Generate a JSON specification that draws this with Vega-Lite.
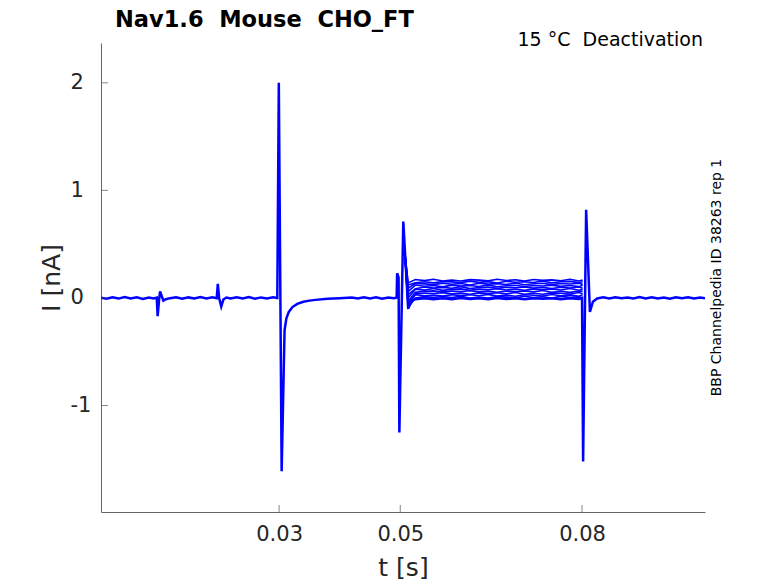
{
  "$schema": "https://vega.github.io/schema/vega-lite/v6.json",
  "width": 604,
  "height": 469,
  "autosize": {"type": "none"},
  "padding": {"left": 101, "top": 43, "right": 73, "bottom": 71},
  "background": "white",
  "config": {
    "font": "DejaVu Sans",
    "view": {"stroke": null},
    "axis": {
      "grid": false,
      "ticks": false,
      "domainColor": "#666666",
      "labelColor": "#262626",
      "titleColor": "#262626",
      "labelFont": "DejaVu Sans",
      "titleFont": "DejaVu Sans",
      "titleFontWeight": "normal"
    }
  },
  "title": {
    "text": "Nav1.6\u00a0 Mouse\u00a0 CHO_FT",
    "anchor": "start",
    "frame": "group",
    "font": "DejaVu Sans",
    "fontSize": 22.5,
    "fontWeight": "bold",
    "color": "#000000",
    "dx": 14,
    "offset": 0
  },
  "datasets": {
    "main": [
      {"t": 0.0006, "i": 0.002}, {"t": 0.0015, "i": -0.008}, {"t": 0.0025, "i": 0.006}, {"t": 0.0035, "i": -0.006},
      {"t": 0.0045, "i": 0.009}, {"t": 0.0055, "i": -0.004}, {"t": 0.0065, "i": 0.007}, {"t": 0.0075, "i": -0.009},
      {"t": 0.0085, "i": 0.004}, {"t": 0.0093, "i": -0.005}, {"t": 0.0098, "i": 0.003}, {"t": 0.00995, "i": -0.17},
      {"t": 0.0102, "i": -0.01}, {"t": 0.01035, "i": 0.06}, {"t": 0.0106, "i": 0.02}, {"t": 0.0109, "i": -0.025},
      {"t": 0.0113, "i": -0.012}, {"t": 0.012, "i": -0.002}, {"t": 0.013, "i": 0.006}, {"t": 0.014, "i": -0.007},
      {"t": 0.015, "i": 0.005}, {"t": 0.016, "i": -0.006}, {"t": 0.017, "i": 0.008}, {"t": 0.018, "i": -0.004},
      {"t": 0.019, "i": 0.006}, {"t": 0.0197, "i": -0.003}, {"t": 0.01988, "i": 0.13}, {"t": 0.0201, "i": 0.0},
      {"t": 0.02045, "i": -0.08}, {"t": 0.0208, "i": -0.015}, {"t": 0.0213, "i": 0.004}, {"t": 0.022, "i": -0.006},
      {"t": 0.023, "i": 0.007}, {"t": 0.024, "i": -0.004}, {"t": 0.025, "i": 0.008}, {"t": 0.026, "i": -0.007},
      {"t": 0.027, "i": 0.005}, {"t": 0.028, "i": -0.005}, {"t": 0.029, "i": 0.006}, {"t": 0.0297, "i": 0.0},
      {"t": 0.02995, "i": 2.0}, {"t": 0.03042, "i": -1.61}, {"t": 0.0309, "i": -0.3}, {"t": 0.0312, "i": -0.19},
      {"t": 0.0316, "i": -0.13}, {"t": 0.0322, "i": -0.085}, {"t": 0.033, "i": -0.055}, {"t": 0.034, "i": -0.035},
      {"t": 0.035, "i": -0.025}, {"t": 0.036, "i": -0.018}, {"t": 0.038, "i": -0.008}, {"t": 0.04, "i": -0.002},
      {"t": 0.042, "i": 0.005}, {"t": 0.043, "i": -0.006}, {"t": 0.044, "i": 0.007}, {"t": 0.045, "i": -0.004},
      {"t": 0.046, "i": 0.006}, {"t": 0.047, "i": -0.007}, {"t": 0.048, "i": 0.004}, {"t": 0.049, "i": -0.003},
      {"t": 0.0494, "i": 0.004}, {"t": 0.04948, "i": 0.23}, {"t": 0.0496, "i": 0.21}, {"t": 0.04972, "i": 0.19},
      {"t": 0.04985, "i": -1.25}, {"t": 0.0505, "i": 0.71}, {"t": 0.0513, "i": -0.1}, {"t": 0.0518, "i": -0.03},
      {"t": 0.0525, "i": -0.012}, {"t": 0.054, "i": -0.002}, {"t": 0.0555, "i": -0.013}, {"t": 0.057, "i": -0.004},
      {"t": 0.0585, "i": -0.011}, {"t": 0.06, "i": -0.001}, {"t": 0.0615, "i": -0.009}, {"t": 0.063, "i": -0.003},
      {"t": 0.0645, "i": -0.012}, {"t": 0.066, "i": 0.0}, {"t": 0.0675, "i": -0.01}, {"t": 0.069, "i": -0.004},
      {"t": 0.0705, "i": -0.013}, {"t": 0.072, "i": -0.002}, {"t": 0.0735, "i": -0.008}, {"t": 0.075, "i": -0.003},
      {"t": 0.0765, "i": -0.011}, {"t": 0.078, "i": -0.002}, {"t": 0.0795, "i": -0.009}, {"t": 0.08, "i": 0.0},
      {"t": 0.08018, "i": -1.52}, {"t": 0.08068, "i": 0.82}, {"t": 0.0813, "i": -0.13}, {"t": 0.0818, "i": -0.035},
      {"t": 0.0825, "i": -0.005}, {"t": 0.0835, "i": 0.006}, {"t": 0.0845, "i": -0.005}, {"t": 0.0855, "i": 0.007},
      {"t": 0.0865, "i": -0.003}, {"t": 0.0875, "i": 0.005}, {"t": 0.0885, "i": -0.006}, {"t": 0.0895, "i": 0.008},
      {"t": 0.0905, "i": -0.004}, {"t": 0.0915, "i": 0.006}, {"t": 0.0925, "i": -0.005}, {"t": 0.0935, "i": 0.004},
      {"t": 0.0945, "i": -0.007}, {"t": 0.0955, "i": 0.006}, {"t": 0.0965, "i": -0.002}, {"t": 0.0975, "i": 0.007},
      {"t": 0.0985, "i": -0.005}, {"t": 0.0995, "i": 0.003}, {"t": 0.1003, "i": -0.004}
    ],
    "steps": [
      {"t": 0.0507, "a": 0.45, "b": 0.45, "c": 0.45, "d": 0.45, "e": 0.45, "f": 0.45, "g": 0.45, "h": 0.45, "k": 0.45, "j": 0.45},
      {"t": 0.0513, "a": 0.14, "b": 0.12, "c": 0.09, "d": 0.06, "e": 0.03, "f": 0.0, "g": -0.03, "h": -0.05, "k": -0.07, "j": -0.09},
      {"t": 0.0525, "a": 0.171, "b": 0.141, "c": 0.135, "d": 0.12, "e": 0.086, "f": 0.081, "g": 0.052, "h": 0.036, "k": 0.031, "j": 0.0},
      {"t": 0.054, "a": 0.161, "b": 0.15, "c": 0.131, "d": 0.109, "e": 0.102, "f": 0.073, "g": 0.062, "h": 0.046, "k": 0.02, "j": 0.012},
      {"t": 0.0555, "a": 0.174, "b": 0.14, "c": 0.124, "d": 0.116, "e": 0.093, "f": 0.087, "g": 0.066, "h": 0.041, "k": 0.027, "j": 0.005},
      {"t": 0.057, "a": 0.158, "b": 0.153, "c": 0.138, "d": 0.103, "e": 0.098, "f": 0.07, "g": 0.054, "h": 0.049, "k": 0.017, "j": 0.013},
      {"t": 0.0585, "a": 0.167, "b": 0.149, "c": 0.127, "d": 0.119, "e": 0.09, "f": 0.08, "g": 0.064, "h": 0.038, "k": 0.029, "j": 0.003},
      {"t": 0.06, "a": 0.157, "b": 0.142, "c": 0.134, "d": 0.11, "e": 0.104, "f": 0.084, "g": 0.059, "h": 0.045, "k": 0.022, "j": 0.016},
      {"t": 0.0615, "a": 0.17, "b": 0.156, "c": 0.121, "d": 0.115, "e": 0.087, "f": 0.072, "g": 0.067, "h": 0.035, "k": 0.03, "j": 0.0},
      {"t": 0.063, "a": 0.166, "b": 0.145, "c": 0.137, "d": 0.107, "e": 0.097, "f": 0.082, "g": 0.056, "h": 0.047, "k": 0.02, "j": 0.009},
      {"t": 0.0645, "a": 0.159, "b": 0.152, "c": 0.128, "d": 0.121, "e": 0.101, "f": 0.077, "g": 0.063, "h": 0.04, "k": 0.033, "j": -0.001},
      {"t": 0.066, "a": 0.173, "b": 0.139, "c": 0.133, "d": 0.104, "e": 0.089, "f": 0.085, "g": 0.053, "h": 0.048, "k": 0.017, "j": 0.012},
      {"t": 0.0675, "a": 0.162, "b": 0.155, "c": 0.125, "d": 0.114, "e": 0.099, "f": 0.074, "g": 0.065, "h": 0.038, "k": 0.026, "j": 0.008},
      {"t": 0.069, "a": 0.169, "b": 0.146, "c": 0.139, "d": 0.118, "e": 0.094, "f": 0.081, "g": 0.058, "h": 0.051, "k": 0.016, "j": 0.001},
      {"t": 0.0705, "a": 0.156, "b": 0.151, "c": 0.122, "d": 0.106, "e": 0.102, "f": 0.071, "g": 0.066, "h": 0.035, "k": 0.029, "j": 0.015},
      {"t": 0.072, "a": 0.172, "b": 0.143, "c": 0.132, "d": 0.116, "e": 0.091, "f": 0.083, "g": 0.056, "h": 0.044, "k": 0.025, "j": 0.004},
      {"t": 0.0735, "a": 0.163, "b": 0.157, "c": 0.136, "d": 0.111, "e": 0.098, "f": 0.076, "g": 0.069, "h": 0.034, "k": 0.018, "j": 0.011},
      {"t": 0.075, "a": 0.168, "b": 0.14, "c": 0.124, "d": 0.119, "e": 0.088, "f": 0.084, "g": 0.053, "h": 0.047, "k": 0.032, "j": -0.002},
      {"t": 0.0765, "a": 0.16, "b": 0.15, "c": 0.134, "d": 0.108, "e": 0.1, "f": 0.074, "g": 0.062, "h": 0.043, "k": 0.021, "j": 0.014},
      {"t": 0.078, "a": 0.174, "b": 0.154, "c": 0.129, "d": 0.115, "e": 0.093, "f": 0.087, "g": 0.052, "h": 0.036, "k": 0.028, "j": 0.005},
      {"t": 0.0795, "a": 0.157, "b": 0.142, "c": 0.137, "d": 0.105, "e": 0.101, "f": 0.071, "g": 0.065, "h": 0.05, "k": 0.015, "j": 0.01},
      {"t": 0.0801, "a": 0.167, "b": 0.152, "c": 0.126, "d": 0.117, "e": 0.091, "f": 0.08, "g": 0.061, "h": 0.039, "k": 0.031, "j": 0.002}
    ],
    "xticks": [{"t": 0.03, "i": -1.99}, {"t": 0.05, "i": -1.99}, {"t": 0.08, "i": -1.99}],
    "yticks": [{"t": 0.0006, "i": -1}, {"t": 0.0006, "i": 0}, {"t": 0.0006, "i": 1}, {"t": 0.0006, "i": 2}],
    "notes": [
      {"label": "15 °C\u00a0 Deactivation", "t": 0.1003, "i": 2.37, "angle": 0},
      {"label": "BBP Channelpedia ID 38263 rep 1", "t": 0.1003, "i": 0.19, "angle": 270}
    ]
  },
  "layer": [
    {
      "data": {"name": "main"},
      "mark": {"type": "line", "color": "#0000ff", "strokeWidth": 2.5, "clip": true},
      "encoding": {
        "x": {
          "field": "t",
          "type": "quantitative",
          "scale": {"domain": [0.0006, 0.1003], "nice": false, "zero": false},
          "axis": {
            "title": "t [s]",
            "values": [0.03, 0.05, 0.08],
            "format": ".2f",
            "labelPadding": 11,
            "labelFontSize": 21,
            "titleFontSize": 25,
            "titleBaseline": "alphabetic",
            "titleY": 63
          }
        },
        "y": {
          "field": "i",
          "type": "quantitative",
          "scale": {"domain": [-1.99, 2.37], "nice": false, "zero": false},
          "axis": {
            "title": "I [nA]",
            "values": [-1, 0, 1, 2],
            "labelExpr": "toString(datum.value)",
            "labelAlign": "left",
            "labelPadding": 31,
            "labelFontSize": 21,
            "titleFontSize": 25,
            "titleBaseline": "alphabetic",
            "titleX": -42,
            "titleY": 234.5
          }
        }
      }
    },
    {
      "data": {"name": "steps"},
      "transform": [
        {"fold": ["a", "b", "c", "d", "e", "f", "g", "h", "k", "j"], "as": ["sweep", "i"]}
      ],
      "mark": {"type": "line", "color": "#0000ff", "strokeWidth": 1.6, "clip": true},
      "encoding": {
        "x": {"field": "t", "type": "quantitative"},
        "y": {"field": "i", "type": "quantitative"},
        "detail": {"field": "sweep"}
      }
    },
    {
      "data": {"name": "xticks"},
      "mark": {"type": "tick", "orient": "vertical", "size": 14, "thickness": 1, "color": "#555555", "clip": true},
      "encoding": {
        "x": {"field": "t", "type": "quantitative"},
        "y": {"field": "i", "type": "quantitative"}
      }
    },
    {
      "data": {"name": "yticks"},
      "mark": {"type": "tick", "orient": "horizontal", "size": 14, "thickness": 1, "color": "#555555", "clip": true},
      "encoding": {
        "x": {"field": "t", "type": "quantitative"},
        "y": {"field": "i", "type": "quantitative"}
      }
    },
    {
      "data": {"name": "notes"},
      "transform": [{"filter": "datum.angle == 0"}],
      "mark": {"type": "text", "align": "right", "baseline": "middle", "fontSize": 19, "color": "#000000", "dx": -2, "dy": -3},
      "encoding": {
        "x": {"field": "t", "type": "quantitative"},
        "y": {"field": "i", "type": "quantitative"},
        "text": {"field": "label"}
      }
    },
    {
      "data": {"name": "notes"},
      "transform": [{"filter": "datum.angle == 270"}],
      "mark": {"type": "text", "align": "center", "baseline": "middle", "angle": 270, "fontSize": 14, "color": "#000000", "dy": 12},
      "encoding": {
        "x": {"field": "t", "type": "quantitative"},
        "y": {"field": "i", "type": "quantitative"},
        "text": {"field": "label"}
      }
    }
  ]
}
